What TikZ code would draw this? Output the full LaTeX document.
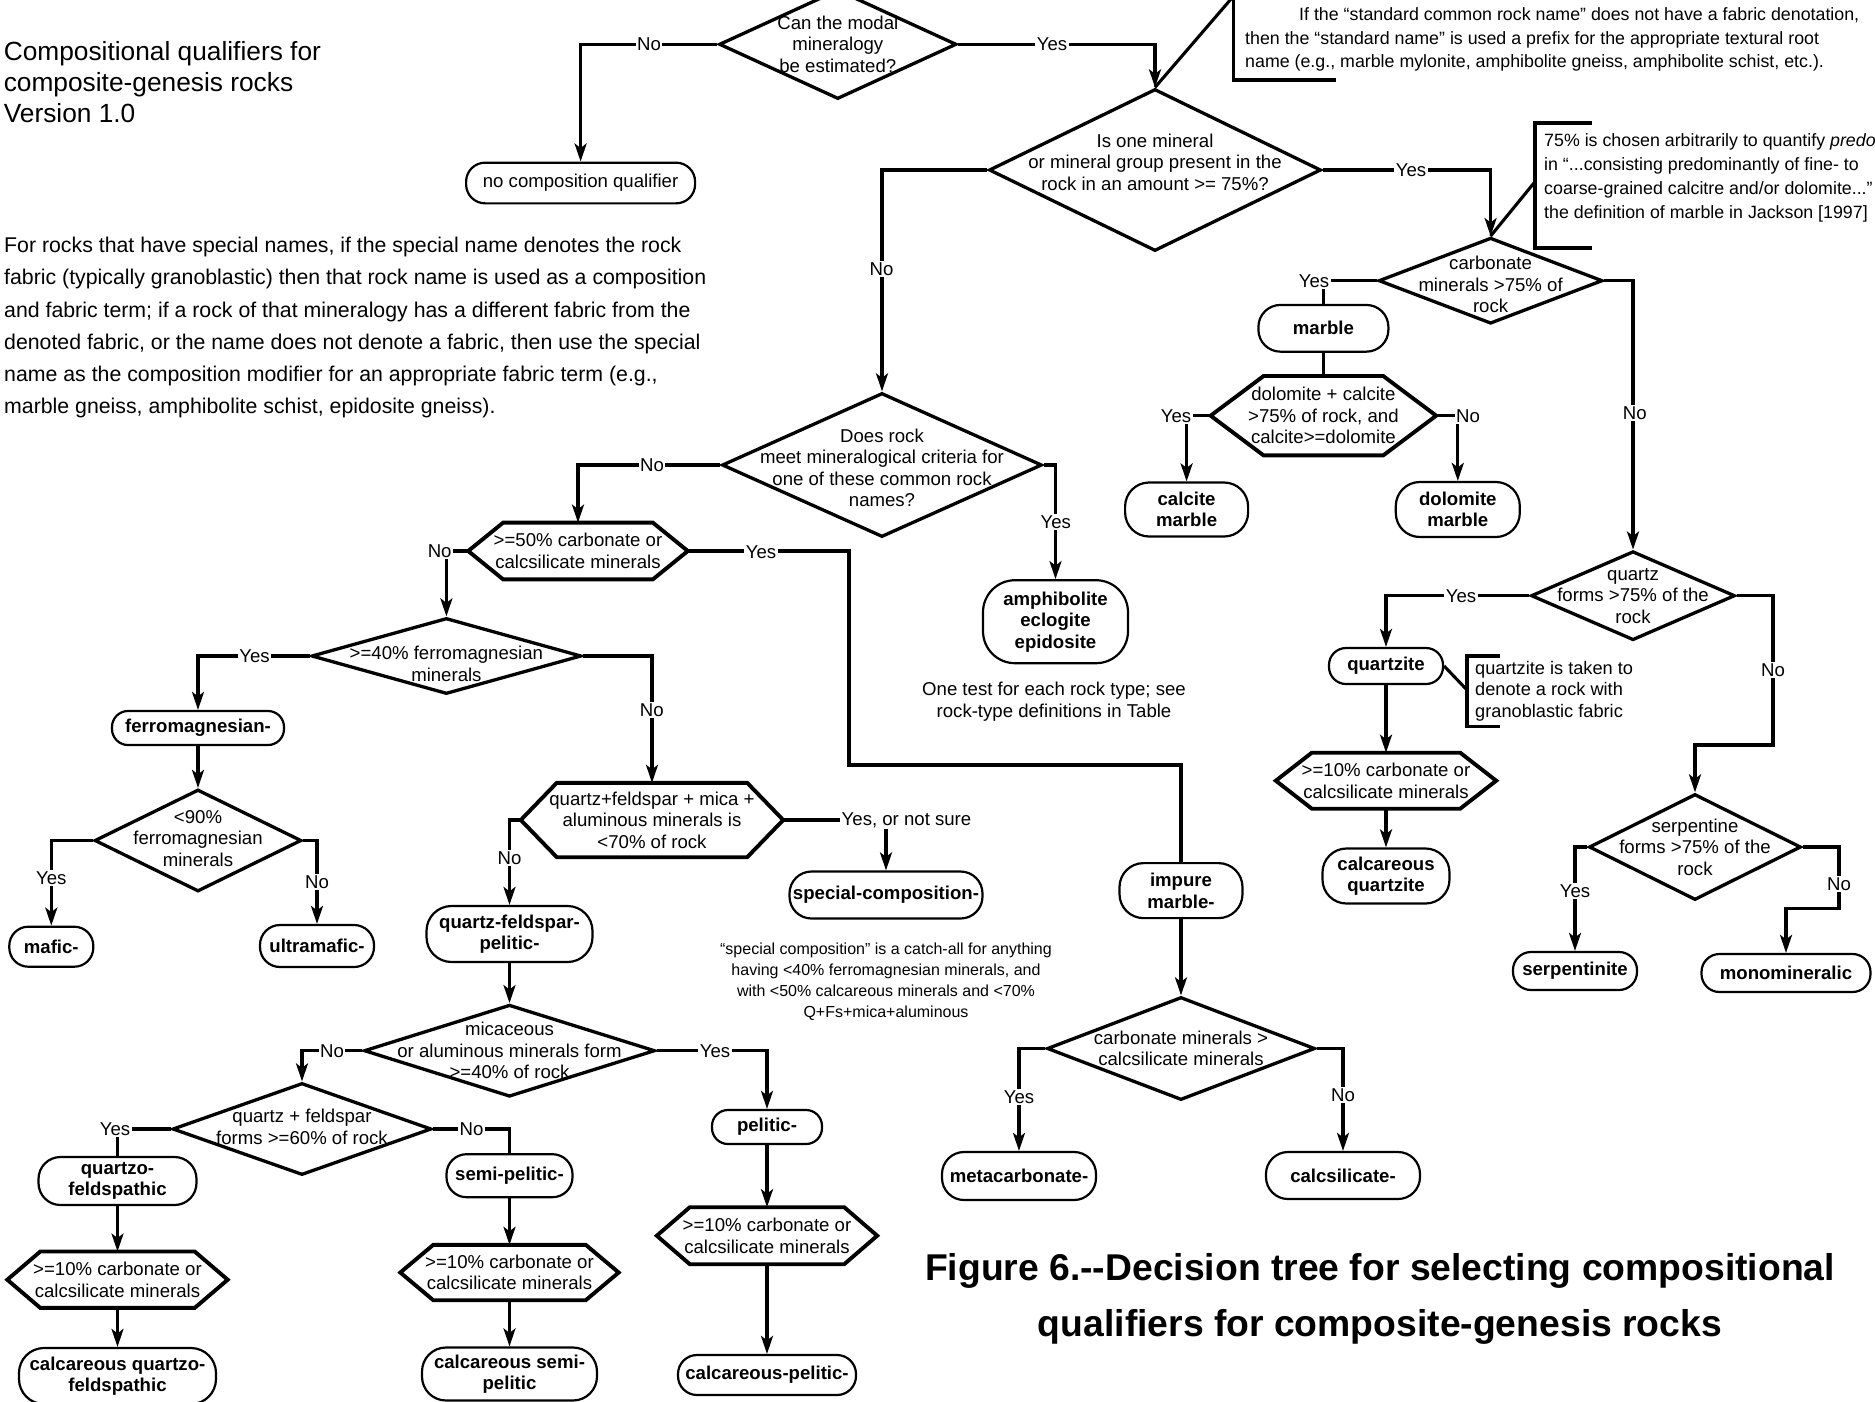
\documentclass[tikz,border=0pt]{standalone}
\usepackage{fontspec}
\setmainfont{Liberation Sans}
\usetikzlibrary{shapes.geometric,arrows.meta,calc}
\newcommand\fdiag{\fontsize{18.6pt}{21.5pt}\selectfont}
\newcommand\fbold{\fontsize{18.6pt}{21.5pt}\selectfont\bfseries}
\newcommand\fnote{\fontsize{17.8pt}{23.8pt}\selectfont}
\newcommand\fqnote{\fontsize{18.2pt}{21.4pt}\selectfont}
\newcommand\fsmall{\fontsize{16pt}{21pt}\selectfont}
\newcommand\fpara{\fontsize{21.3pt}{32.1pt}\selectfont}
\newcommand\fhead{\fontsize{26.3pt}{31pt}\selectfont}
\newcommand\ftitle{\fontsize{37.3pt}{56pt}\selectfont\bfseries}
% hexagonal test box: name, x, y, width, height, slant, text
\newcommand\hexnode[7]{%
  \node[hexn,minimum width=#4pt,minimum height=#5pt] (#1) at (#2,#3) {#7};
  \draw[hexline] (#1.west) -- ([xshift=#6pt]#1.north west) -- ([xshift=-#6pt]#1.north east)
    -- (#1.east) -- ([xshift=-#6pt]#1.south east) -- ([xshift=#6pt]#1.south west) -- cycle;}
\begin{document}
\begin{tikzpicture}[x=1pt,y=-1pt,
  conn/.style={line width=3.1pt},
  arr/.style={conn,-{Stealth[length=18pt,width=12pt,inset=4.5pt]}},
  dia/.style={diamond,draw,line width=3.3pt,inner sep=0pt},
  dtxt/.style={font=\fdiag,align=center,inner sep=0pt},
  hexn/.style={rectangle,inner sep=0pt,font=\fdiag,align=center},
  hexline/.style={line width=3.9pt,line join=miter},
  term/.style={rectangle,draw,line width=2.2pt,inner sep=0pt,font=\fbold,align=center},
  lbl/.style={fill=white,inner sep=1.5pt,font=\fdiag},
  note/.style={inner sep=0pt,align=left},
]
\useasboundingbox (0,0) rectangle (1875,1401);
\fill[white] (0,0) rectangle (1875,1401);

% ---------- decision diamonds ----------
\node[dia,minimum width=237.4pt,minimum height=109.4pt,
  label={[dtxt]center:{Can the modal\\mineralogy\\be estimated?}}] (d1) at (837.8,44.3) {};
\node[dia,minimum width=332pt,minimum height=162pt,
  label={[dtxt,yshift=8pt]center:{Is one mineral\\or mineral group present in the\\rock in an amount >= 75\%?}}] (d2) at (1155,170) {};
\node[dia,minimum width=224pt,minimum height=86pt,
  label={[dtxt,yshift=-4pt]center:{carbonate\\minerals >75\% of\\rock}}] (d3) at (1490.6,280.7) {};
\node[dia,minimum width=320pt,minimum height=144pt,
  label={[dtxt,yshift=-3pt]center:{Does rock\\meet mineralogical criteria for\\one of these common rock\\names?}}] (d4) at (882,465) {};
\node[dia,minimum width=268pt,minimum height=103pt,
  label={[dtxt]center:{carbonate minerals >\\calcsilicate minerals}}] (d5) at (1181,1048.5) {};
\node[dia,minimum width=204pt,minimum height=89pt,
  label={[dtxt]center:{quartz\\forms >75\% of the\\rock}}] (d6) at (1633,595.7) {};
\node[dia,minimum width=212pt,minimum height=106pt,
  label={[dtxt]center:{serpentine\\forms >75\% of the\\rock}}] (d7) at (1695,847) {};
\node[dia,minimum width=270pt,minimum height=76pt,
  label={[dtxt,yshift=-7.7pt]center:{>=40\% ferromagnesian\\minerals}}] (d8) at (446.4,656) {};
\node[dia,minimum width=207pt,minimum height=102pt,
  label={[dtxt,yshift=2pt]center:{<90\%\\ferromagnesian\\minerals}}] (d9) at (198,840.5) {};
\node[dia,minimum width=291pt,minimum height=92pt,
  label={[dtxt]center:{micaceous\\or aluminous minerals form\\>=40\% of rock}}] (d10) at (509.5,1050.7) {};
\node[dia,minimum width=259pt,minimum height=92pt,
  label={[dtxt,yshift=2pt]center:{quartz + feldspar\\forms >=60\% of rock}}] (d11) at (302,1129) {};

% ---------- hexagonal tests ----------
\hexnode{h1}{1323.4}{415.7}{225.2}{79}{53}{dolomite + calcite\\>75\% of rock, and\\calcite>=dolomite}
\hexnode{h2}{578}{551}{219.2}{56.4}{35}{>=50\% carbonate or\\calcsilicate minerals}
\hexnode{h3}{1386}{780.7}{220}{55.6}{36}{>=10\% carbonate or\\calcsilicate minerals}
\hexnode{h4}{652}{820}{262}{74}{36}{quartz+feldspar + mica +\\aluminous minerals is\\<70\% of rock}
\hexnode{h5}{117.5}{1279.7}{220}{56}{33}{>=10\% carbonate or\\calcsilicate minerals}
\hexnode{h6}{509.5}{1272.5}{218}{55}{33}{>=10\% carbonate or\\calcsilicate minerals}
\hexnode{h7}{767}{1235.7}{220}{56.6}{33}{>=10\% carbonate or\\calcsilicate minerals}

% ---------- terminal names ----------
\node[term,font=\fdiag,minimum width=229pt,minimum height=40.7pt,rounded corners=19pt] (nqual) at (580.6,183) {no composition qualifier};
\node[term,minimum width=130pt,minimum height=46.7pt,rounded corners=22pt] (marble) at (1323.4,328.3) {marble};
\node[term,minimum width=123pt,minimum height=54pt,rounded corners=24pt] (calcite) at (1186.6,509.5) {calcite\\marble};
\node[term,minimum width=124pt,minimum height=55pt,rounded corners=24pt] (dolomite) at (1457.8,509.5) {dolomite\\marble};
\node[term,minimum width=145pt,minimum height=83pt,rounded corners=32pt] (amph) at (1055.5,621.7) {amphibolite\\eclogite\\epidosite};
\node[term,minimum width=114pt,minimum height=36pt,rounded corners=17pt] (quartzite) at (1386,666) {quartzite};
\node[term,minimum width=127pt,minimum height=55pt,rounded corners=24pt] (calcqtz) at (1386,876) {calcareous\\quartzite};
\node[term,minimum width=124pt,minimum height=38pt,rounded corners=18pt] (serp) at (1575,971) {serpentinite};
\node[term,minimum width=169pt,minimum height=38pt,rounded corners=18pt] (mono) at (1786,973) {monomineralic};
\node[term,minimum width=123pt,minimum height=55pt,rounded corners=24pt] (impure) at (1181,890.6) {impure\\marble-};
\node[term,minimum width=154pt,minimum height=48pt,rounded corners=22pt] (meta) at (1019,1176) {metacarbonate-};
\node[term,minimum width=154pt,minimum height=47pt,rounded corners=22pt] (calcsil) at (1343,1175.5) {calcsilicate-};
\node[term,minimum width=172pt,minimum height=34pt,rounded corners=16pt] (ferro) at (198,728) {ferromagnesian-};
\node[term,minimum width=84pt,minimum height=40pt,rounded corners=19pt] (mafic) at (51.3,946.7) {mafic-};
\node[term,minimum width=114pt,minimum height=42pt,rounded corners=20pt] (ultra) at (317,946) {ultramafic-};
\node[term,minimum width=193pt,minimum height=47pt,rounded corners=22pt] (special) at (886,895) {special-composition-};
\node[term,minimum width=166pt,minimum height=56pt,rounded corners=25pt] (qfp) at (509.5,934) {quartz-feldspar-\\pelitic-};
\node[term,minimum width=158pt,minimum height=48pt,rounded corners=22pt] (qf) at (117.5,1181) {quartzo-\\feldspathic};
\node[term,minimum width=126pt,minimum height=43pt,rounded corners=20pt] (semi) at (509.5,1175.7) {semi-pelitic-};
\node[term,minimum width=110pt,minimum height=34pt,rounded corners=16pt] (pelitic) at (767,1127) {pelitic-};
\node[term,minimum width=197pt,minimum height=56pt,rounded corners=25pt] (cqf) at (117.5,1376) {calcareous quartzo-\\feldspathic};
\node[term,minimum width=175pt,minimum height=53pt,rounded corners=24pt] (csemi) at (509.5,1374) {calcareous semi-\\pelitic};
\node[term,minimum width=178pt,minimum height=40pt,rounded corners=19pt] (cpel) at (767,1375) {calcareous-pelitic-};

% ---------- bend points and note brackets ----------
\coordinate (h2y) at (849,765);
\coordinate (d6n) at (1773,745);
\coordinate (d7n) at (1839,908.7);
\coordinate (n1a) at (1233.6,-4);
\coordinate (n1b) at (1233.6,80);
\coordinate (n1c) at (1335.6,80);
\coordinate (n2a) at (1592,123);
\coordinate (n2b) at (1535,123);
\coordinate (n2c) at (1535,248);
\coordinate (n2d) at (1592,248);
\coordinate (n2m) at (1535,181.7);
\coordinate (n3a) at (1500,656);
\coordinate (n3b) at (1467,656);
\coordinate (n3c) at (1467,726.7);
\coordinate (n3d) at (1500,726.7);
\coordinate (n3m) at (1467,690);

% ---------- connectors ----------
\draw[arr] (d1.west) -| (nqual.north);
\draw[arr] (d1.east) -| (d2.north);
\draw[arr] (d2.west) -| (d4.north);
\draw[arr] (d2.east) -| (d3.north);
\draw[conn] (d3.west) -| (marble.north);
\draw[conn] (marble.south) -- (h1.north);
\draw[arr] (h1.west) -| (calcite.north);
\draw[arr] (h1.east) -| (dolomite.north);
\draw[arr] (d3.east) -| (d6.north);
\draw[arr] (d4.east) -| (amph.north);
\draw[arr] (d4.west) -| (h2.north);
\draw[conn] (h2.east) -| (h2y) -| (impure.north);
\draw[arr] (impure.south) -- (d5.north);
\draw[arr] (d5.west) -| (meta.north);
\draw[arr] (d5.east) -| (calcsil.north);
\draw[arr] (h2.west) -| (d8.north);
\draw[arr] (d8.west) -| (ferro.north);
\draw[arr] (ferro.south) -- (d9.north);
\draw[arr] (d9.west) -| (mafic.north);
\draw[arr] (d9.east) -| (ultra.north);
\draw[arr] (d8.east) -| (h4.north);
\draw[arr] (h4.east) -| (special.north);
\draw[arr] (h4.west) -| (qfp.north);
\draw[arr] (qfp.south) -- (d10.north);
\draw[arr] (d10.west) -| (d11.north);
\draw[conn] (d11.west) -| (qf.north);
\draw[arr] (qf.south) -- (h5.north);
\draw[arr] (h5.south) -- (cqf.north);
\draw[conn] (d11.east) -| (semi.north);
\draw[arr] (semi.south) -- (h6.north);
\draw[arr] (h6.south) -- (csemi.north);
\draw[arr] (d10.east) -| (pelitic.north);
\draw[arr] (pelitic.south) -- (h7.north);
\draw[arr] (h7.south) -- (cpel.north);
\draw[arr] (d6.west) -| (quartzite.north);
\draw[arr] (quartzite.south) -- (h3.north);
\draw[arr] (h3.south) -- (calcqtz.north);
\draw[arr] (d6.east) -| (d6n) -| (d7.north);
\draw[arr] (d7.west) -| (serp.north);
\draw[arr] (d7.east) -| (d7n) -| (mono.north);

% note callouts
\draw[conn] (d2.north) -- (n1a);
\draw[conn] (n1a) -- (n1b) -- (n1c);
\draw[conn] (d3.north) -- (n2m);
\draw[conn] (n2a) -- (n2b) -- (n2c) -- (n2d);
\draw[conn] (quartzite.east) -- (n3m);
\draw[conn] (n3a) -- (n3b) -- (n3c) -- (n3d);

% ---------- branch labels ----------
\node[lbl] (lno1) at (649,44.3) {No};
\node[lbl] (lyes1) at (1052,44.3) {Yes};
\node[lbl] (lno2) at (881.5,269) {No};
\node[lbl] (lyes2) at (1411,170) {Yes};
\node[lbl] (lyes3) at (1314,280.7) {Yes};
\node[lbl] (lno3) at (1634.8,413) {No};
\node[lbl] (lyes4) at (1176,415.7) {Yes};
\node[lbl] (lno4) at (1468,415.7) {No};
\node[lbl] (lno5) at (652,465) {No};
\node[lbl] (lyes5) at (1055.7,521.7) {Yes};
\node[lbl] (lyes6) at (761,551.7) {Yes};
\node[lbl] (lno6) at (439.7,551) {No};
\node[lbl] (lyes7) at (254.5,656) {Yes};
\node[lbl] (lno7) at (651.8,710) {No};
\node[lbl] (lyes8) at (51.3,878.3) {Yes};
\node[lbl] (lno8) at (317,881.7) {No};
\node[lbl,anchor=west] (lyes9) at (840,820) {Yes, or not sure};
\node[lbl] (lno9) at (509.5,858.3) {No};
\node[lbl] (lno10) at (332,1050.7) {No};
\node[lbl] (lyes10) at (715,1050.7) {Yes};
\node[lbl] (lyes11) at (115,1129) {Yes};
\node[lbl] (lno11) at (471.5,1129) {No};
\node[lbl] (lyes12) at (1019,1096.8) {Yes};
\node[lbl] (lno12) at (1343,1095) {No};
\node[lbl] (lyes13) at (1461,595.7) {Yes};
\node[lbl] (lno13) at (1773,670) {No};
\node[lbl] (lyes14) at (1575,891) {Yes};
\node[lbl] (lno14) at (1839,883.8) {No};

% ---------- notes and texts ----------
\node[note,anchor=west,font=\fhead] (head) at (3.6,82.5)
  {Compositional qualifiers for\\composite-genesis rocks\\Version 1.0};
\node[note,anchor=west,font=\fpara] (para) at (4,327.6)
  {For rocks that have special names, if the special name denotes the rock\\
   fabric (typically granoblastic) then that rock name is used as a composition\\
   and fabric term; if a rock of that mineralogy has a different fabric from the\\
   denoted fabric, or the name does not denote a fabric, then use the special\\
   name as the composition modifier for an appropriate fabric term (e.g.,\\
   marble gneiss, amphibolite schist, epidosite gneiss).};
\node[note,anchor=west,font=\fnote] (note1) at (1245,39.5)
  {\hspace*{54pt}If the “standard common rock name” does not have a fabric denotation,\\
   then the “standard name” is used a prefix for the appropriate textural root\\
   name (e.g., marble mylonite, amphibolite gneiss, amphibolite schist, etc.).};
\node[note,anchor=west,font=\fnote] (note2) at (1544,178)
  {75\% is chosen arbitrarily to quantify \textit{predominantly}\\
   in “...consisting predominantly of fine- to\\
   coarse-grained calcitre and/or dolomite...”\\
   the definition of marble in Jackson [1997]};
\node[note,anchor=west,font=\fqnote] (note3) at (1475,691)
  {quartzite is taken to\\denote a rock with\\granoblastic fabric};
\node[inner sep=0pt,align=center,font=\fdiag] (note4) at (1054,701.7)
  {One test for each rock type; see\\rock-type definitions in Table};
\node[inner sep=0pt,align=center,font=\fsmall] (note5) at (886,981.7)
  {“special composition” is a catch-all for anything\\having <40\% ferromagnesian minerals, and\\with <50\% calcareous minerals and <70\%\\Q+Fs+mica+aluminous};
\node[inner sep=0pt,align=center,font=\ftitle] (title) at (1380,1298.7)
  {Figure 6.-{}-Decision tree for selecting compositional\\qualifiers for composite-genesis rocks};
\end{tikzpicture}
\end{document}
